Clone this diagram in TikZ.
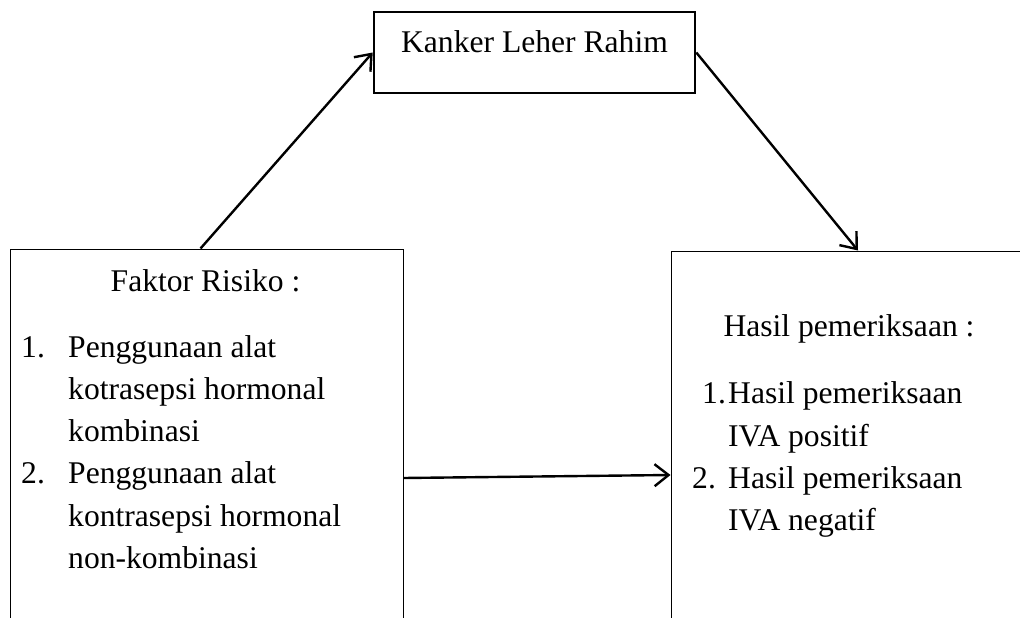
\documentclass[tikz,border=0pt]{standalone}
\usepackage{fontspec}
\setmainfont{Liberation Serif}
\usetikzlibrary{arrows.meta}

\tikzset{
  kotak/.style={draw, rectangle, inner sep=0pt, line width=1pt},
  teks/.style={inner sep=0pt, anchor=base west, font=\fontsize{31.6}{38}\selectfont},
  panah/.style={line width=2.4pt, -{Straight Barb[length=14pt,width=22pt]}}
}

\begin{document}
\begin{tikzpicture}[x=1pt,y=-1pt]
        \useasboundingbox (0,0) rectangle (1020,618);
        \clip (0,0) rectangle (1020,618);

        % Kotak atas
        \node[kotak, line width=2.6pt, minimum width=321pt, text height=41pt, text depth=40pt,
              font=\fontsize{31.6}{38}\selectfont] (kanker) at (534.5,52.5) {Kanker Leher Rahim};

        % Kotak kiri dan kanan (terpotong di bawah)
        \node[kotak, minimum width=393pt, minimum height=458pt] (faktor) at (206.5,478) {};
        \node[kotak, minimum width=374pt, minimum height=448pt] (hasil) at (858,475) {};

        % Isi kotak kiri
        \node[teks, anchor=base] (judulkiri) at (205.5,291) {Faktor Risiko :};
        \node[teks] (n1) at (21,357) {1.};
        \node[teks] (a1) at (68,357) {Penggunaan alat};
        \node[teks] (a2) at (68,399.3) {kotrasepsi hormonal};
        \node[teks] (a3) at (68,441.6) {kombinasi};
        \node[teks] (n2) at (21,483.9) {2.};
        \node[teks] (b1) at (68,483.9) {Penggunaan alat};
        \node[teks] (b2) at (68,526.2) {kontrasepsi hormonal};
        \node[teks] (b3) at (68,568.5) {non-kombinasi};

        % Isi kotak kanan
        \node[teks, anchor=base] (judulkanan) at (849,336) {Hasil pemeriksaan :};
        \node[teks] (m1) at (702,403) {1.};
        \node[teks] (c1) at (728,403) {Hasil pemeriksaan};
        \node[teks] (c2) at (728,446) {IVA positif};
        \node[teks] (m2) at (692,488) {2.};
        \node[teks] (d1) at (728,488) {Hasil pemeriksaan};
        \node[teks] (d2) at (728,530) {IVA negatif};

        % Panah
        \draw[panah] ([xshift=-6pt]faktor.north) -- (kanker.west);
        \draw[panah] (kanker.east) -- (hasil.north);
        \draw[panah] (faktor.east) -- (hasil.west);
    \end{tikzpicture}
\end{document}
